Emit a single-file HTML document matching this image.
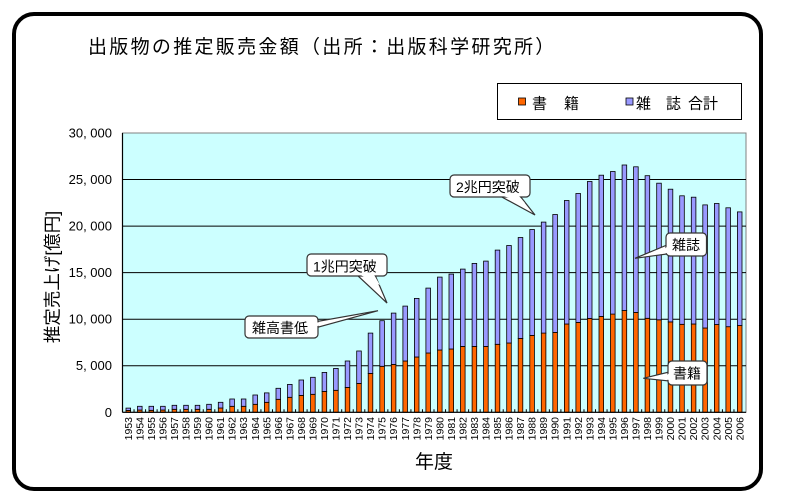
<!DOCTYPE html>
<html><head><meta charset="utf-8"><style>
html,body{margin:0;padding:0;background:#fff;}
svg{display:block;}
text{font-family:"Liberation Sans","Noto Sans CJK JP",sans-serif;fill:#000;}
</style></head><body>
<svg width="791" height="500" viewBox="0 0 791 500" xmlns="http://www.w3.org/2000/svg">
<rect x="0" y="0" width="791" height="500" fill="#fff"/>
<rect x="14" y="14" width="747" height="475" rx="20" ry="20" fill="#fff" stroke="#000" stroke-width="4"/>
<text x="88" y="53" font-size="19" letter-spacing="2.3">出版物の推定販売金額（出所：出版科学研究所）</text>
<rect x="497.5" y="83.5" width="244" height="36" fill="#fff" stroke="#000" stroke-width="1"/>
<rect x="518.5" y="98" width="7" height="7" fill="#FF6600" stroke="#000" stroke-width="0.8"/>
<text x="532" y="108.5" font-size="15">書</text>
<text x="564" y="108.5" font-size="15">籍</text>
<rect x="626" y="98" width="7" height="7" fill="#9999FF" stroke="#000" stroke-width="0.8"/>
<text x="636" y="108.5" font-size="15">雑</text>
<text x="666" y="108.5" font-size="15">誌</text>
<text x="688" y="108.5" font-size="15">合計</text>
<rect x="122.5" y="133" width="623.5" height="279.3" fill="#CCFFFF" stroke="#808080" stroke-width="1"/>
<g stroke="#000" stroke-width="1">
<line x1="122.5" y1="179.55" x2="746" y2="179.55"/>
<line x1="122.5" y1="226.1" x2="746" y2="226.1"/>
<line x1="122.5" y1="272.65" x2="746" y2="272.65"/>
<line x1="122.5" y1="319.2" x2="746" y2="319.2"/>
<line x1="122.5" y1="365.75" x2="746" y2="365.75"/>
</g>
<g stroke="#000" stroke-width="0.8">
<rect x="126.0" y="410.4" width="4.6" height="1.9" fill="#FF6600"/><rect x="126.0" y="408.1" width="4.6" height="2.3" fill="#9999FF"/>
<rect x="137.5" y="410.0" width="4.6" height="2.3" fill="#FF6600"/><rect x="137.5" y="406.3" width="4.6" height="3.7" fill="#9999FF"/>
<rect x="149.0" y="410.3" width="4.6" height="2.0" fill="#FF6600"/><rect x="149.0" y="406.3" width="4.6" height="4.0" fill="#9999FF"/>
<rect x="160.6" y="410.0" width="4.6" height="2.3" fill="#FF6600"/><rect x="160.6" y="406.3" width="4.6" height="3.7" fill="#9999FF"/>
<rect x="172.1" y="409.3" width="4.6" height="3.0" fill="#FF6600"/><rect x="172.1" y="405.3" width="4.6" height="4.0" fill="#9999FF"/>
<rect x="183.7" y="409.3" width="4.6" height="3.0" fill="#FF6600"/><rect x="183.7" y="405.3" width="4.6" height="4.0" fill="#9999FF"/>
<rect x="195.2" y="409.3" width="4.6" height="3.0" fill="#FF6600"/><rect x="195.2" y="405.3" width="4.6" height="4.0" fill="#9999FF"/>
<rect x="206.7" y="409.3" width="4.6" height="3.0" fill="#FF6600"/><rect x="206.7" y="404.3" width="4.6" height="5.0" fill="#9999FF"/>
<rect x="218.3" y="408.0" width="4.6" height="4.3" fill="#FF6600"/><rect x="218.3" y="402.3" width="4.6" height="5.7" fill="#9999FF"/>
<rect x="229.8" y="406.3" width="4.6" height="6.0" fill="#FF6600"/><rect x="229.8" y="399.0" width="4.6" height="7.3" fill="#9999FF"/>
<rect x="241.3" y="406.3" width="4.6" height="6.0" fill="#FF6600"/><rect x="241.3" y="399.0" width="4.6" height="7.3" fill="#9999FF"/>
<rect x="252.9" y="404.3" width="4.6" height="8.0" fill="#FF6600"/><rect x="252.9" y="395.0" width="4.6" height="9.3" fill="#9999FF"/>
<rect x="264.4" y="402.3" width="4.6" height="10.0" fill="#FF6600"/><rect x="264.4" y="392.9" width="4.6" height="9.4" fill="#9999FF"/>
<rect x="276.0" y="399.3" width="4.6" height="13.0" fill="#FF6600"/><rect x="276.0" y="388.3" width="4.6" height="11.0" fill="#9999FF"/>
<rect x="287.5" y="397.3" width="4.6" height="15.0" fill="#FF6600"/><rect x="287.5" y="384.4" width="4.6" height="12.9" fill="#9999FF"/>
<rect x="299.0" y="395.4" width="4.6" height="16.9" fill="#FF6600"/><rect x="299.0" y="380.0" width="4.6" height="15.4" fill="#9999FF"/>
<rect x="310.6" y="394.3" width="4.6" height="18.0" fill="#FF6600"/><rect x="310.6" y="377.3" width="4.6" height="17.0" fill="#9999FF"/>
<rect x="322.1" y="391.4" width="4.6" height="20.9" fill="#FF6600"/><rect x="322.1" y="372.4" width="4.6" height="19.0" fill="#9999FF"/>
<rect x="333.6" y="390.3" width="4.6" height="22.0" fill="#FF6600"/><rect x="333.6" y="368.4" width="4.6" height="21.9" fill="#9999FF"/>
<rect x="345.2" y="387.4" width="4.6" height="24.9" fill="#FF6600"/><rect x="345.2" y="361.0" width="4.6" height="26.4" fill="#9999FF"/>
<rect x="356.7" y="383.4" width="4.6" height="28.9" fill="#FF6600"/><rect x="356.7" y="351.0" width="4.6" height="32.4" fill="#9999FF"/>
<rect x="368.2" y="373.4" width="4.6" height="38.9" fill="#FF6600"/><rect x="368.2" y="333.1" width="4.6" height="40.3" fill="#9999FF"/>
<rect x="379.8" y="366.3" width="4.6" height="46.0" fill="#FF6600"/><rect x="379.8" y="320.7" width="4.6" height="45.6" fill="#9999FF"/>
<rect x="391.3" y="364.4" width="4.6" height="47.9" fill="#FF6600"/><rect x="391.3" y="313.1" width="4.6" height="51.3" fill="#9999FF"/>
<rect x="402.9" y="361.0" width="4.6" height="51.3" fill="#FF6600"/><rect x="402.9" y="306.1" width="4.6" height="54.9" fill="#9999FF"/>
<rect x="414.4" y="357.0" width="4.6" height="55.3" fill="#FF6600"/><rect x="414.4" y="298.4" width="4.6" height="58.6" fill="#9999FF"/>
<rect x="425.9" y="353.0" width="4.6" height="59.3" fill="#FF6600"/><rect x="425.9" y="288.1" width="4.6" height="64.9" fill="#9999FF"/>
<rect x="437.5" y="350.0" width="4.6" height="62.3" fill="#FF6600"/><rect x="437.5" y="277.1" width="4.6" height="72.9" fill="#9999FF"/>
<rect x="449.0" y="349.0" width="4.6" height="63.3" fill="#FF6600"/><rect x="449.0" y="274.1" width="4.6" height="74.9" fill="#9999FF"/>
<rect x="460.5" y="346.4" width="4.6" height="65.9" fill="#FF6600"/><rect x="460.5" y="269.1" width="4.6" height="77.3" fill="#9999FF"/>
<rect x="472.1" y="346.4" width="4.6" height="65.9" fill="#FF6600"/><rect x="472.1" y="263.4" width="4.6" height="83.0" fill="#9999FF"/>
<rect x="483.6" y="346.4" width="4.6" height="65.9" fill="#FF6600"/><rect x="483.6" y="261.1" width="4.6" height="85.3" fill="#9999FF"/>
<rect x="495.2" y="344.3" width="4.6" height="68.0" fill="#FF6600"/><rect x="495.2" y="250.1" width="4.6" height="94.2" fill="#9999FF"/>
<rect x="506.7" y="343.0" width="4.6" height="69.3" fill="#FF6600"/><rect x="506.7" y="245.5" width="4.6" height="97.5" fill="#9999FF"/>
<rect x="518.2" y="338.4" width="4.6" height="73.9" fill="#FF6600"/><rect x="518.2" y="237.5" width="4.6" height="100.9" fill="#9999FF"/>
<rect x="529.8" y="335.4" width="4.6" height="76.9" fill="#FF6600"/><rect x="529.8" y="229.5" width="4.6" height="105.9" fill="#9999FF"/>
<rect x="541.3" y="333.1" width="4.6" height="79.2" fill="#FF6600"/><rect x="541.3" y="222.1" width="4.6" height="111.0" fill="#9999FF"/>
<rect x="552.8" y="332.4" width="4.6" height="79.9" fill="#FF6600"/><rect x="552.8" y="214.5" width="4.6" height="117.9" fill="#9999FF"/>
<rect x="564.4" y="324.0" width="4.6" height="88.3" fill="#FF6600"/><rect x="564.4" y="200.5" width="4.6" height="123.5" fill="#9999FF"/>
<rect x="575.9" y="322.4" width="4.6" height="89.9" fill="#FF6600"/><rect x="575.9" y="193.5" width="4.6" height="128.9" fill="#9999FF"/>
<rect x="587.4" y="318.4" width="4.6" height="93.9" fill="#FF6600"/><rect x="587.4" y="181.5" width="4.6" height="136.9" fill="#9999FF"/>
<rect x="599.0" y="316.4" width="4.6" height="95.9" fill="#FF6600"/><rect x="599.0" y="175.2" width="4.6" height="141.2" fill="#9999FF"/>
<rect x="610.5" y="314.1" width="4.6" height="98.2" fill="#FF6600"/><rect x="610.5" y="171.5" width="4.6" height="142.6" fill="#9999FF"/>
<rect x="622.1" y="310.5" width="4.6" height="101.8" fill="#FF6600"/><rect x="622.1" y="165.0" width="4.6" height="145.5" fill="#9999FF"/>
<rect x="633.6" y="312.4" width="4.6" height="99.9" fill="#FF6600"/><rect x="633.6" y="166.8" width="4.6" height="145.6" fill="#9999FF"/>
<rect x="645.1" y="318.3" width="4.6" height="94.0" fill="#FF6600"/><rect x="645.1" y="175.7" width="4.6" height="142.6" fill="#9999FF"/>
<rect x="656.7" y="319.8" width="4.6" height="92.5" fill="#FF6600"/><rect x="656.7" y="183.2" width="4.6" height="136.6" fill="#9999FF"/>
<rect x="668.2" y="321.9" width="4.6" height="90.4" fill="#FF6600"/><rect x="668.2" y="189.2" width="4.6" height="132.7" fill="#9999FF"/>
<rect x="679.7" y="324.3" width="4.6" height="88.0" fill="#FF6600"/><rect x="679.7" y="195.8" width="4.6" height="128.5" fill="#9999FF"/>
<rect x="691.3" y="324.0" width="4.6" height="88.3" fill="#FF6600"/><rect x="691.3" y="197.2" width="4.6" height="126.8" fill="#9999FF"/>
<rect x="702.8" y="328.0" width="4.6" height="84.3" fill="#FF6600"/><rect x="702.8" y="204.9" width="4.6" height="123.1" fill="#9999FF"/>
<rect x="714.4" y="324.5" width="4.6" height="87.8" fill="#FF6600"/><rect x="714.4" y="203.5" width="4.6" height="121.0" fill="#9999FF"/>
<rect x="725.9" y="326.7" width="4.6" height="85.6" fill="#FF6600"/><rect x="725.9" y="207.8" width="4.6" height="118.9" fill="#9999FF"/>
<rect x="737.4" y="325.5" width="4.6" height="86.8" fill="#FF6600"/><rect x="737.4" y="211.9" width="4.6" height="113.6" fill="#9999FF"/>
</g>
<line x1="122.5" y1="133" x2="122.5" y2="412.3" stroke="#000" stroke-width="1.2"/>
<line x1="122.5" y1="412.3" x2="746" y2="412.3" stroke="#000" stroke-width="1.2"/>
<g stroke="#000" stroke-width="1">
<path d="M134.04 412.3v-3M145.57 412.3v-3M157.11 412.3v-3M168.65 412.3v-3M180.19 412.3v-3M191.72 412.3v-3M203.26 412.3v-3M214.8 412.3v-3M226.33 412.3v-3M237.87 412.3v-3M249.41 412.3v-3M260.94 412.3v-3M272.48 412.3v-3M284.02 412.3v-3M295.56 412.3v-3M307.09 412.3v-3M318.63 412.3v-3M330.17 412.3v-3M341.7 412.3v-3M353.24 412.3v-3M364.78 412.3v-3M376.31 412.3v-3M387.85 412.3v-3M399.39 412.3v-3M410.93 412.3v-3M422.46 412.3v-3M434 412.3v-3M445.54 412.3v-3M457.07 412.3v-3M468.61 412.3v-3M480.15 412.3v-3M491.68 412.3v-3M503.22 412.3v-3M514.76 412.3v-3M526.3 412.3v-3M537.83 412.3v-3M549.37 412.3v-3M560.91 412.3v-3M572.44 412.3v-3M583.98 412.3v-3M595.52 412.3v-3M607.05 412.3v-3M618.59 412.3v-3M630.13 412.3v-3M641.67 412.3v-3M653.2 412.3v-3M664.74 412.3v-3M676.28 412.3v-3M687.81 412.3v-3M699.35 412.3v-3M710.89 412.3v-3M722.42 412.3v-3M733.96 412.3v-3"/>
</g>
<g font-size="13" text-anchor="end">
<text x="112" y="137.5">30, 000</text>
<text x="112" y="184">25, 000</text>
<text x="112" y="230.5">20, 000</text>
<text x="112" y="277">15, 000</text>
<text x="112" y="323.7">10, 000</text>
<text x="112" y="370.2">5, 000</text>
<text x="112" y="416.8">0</text>
</g>
<text transform="translate(58.5,277) rotate(-90)" text-anchor="middle" font-size="17.5">推定売上げ[億円]</text>
<g font-size="10.5" text-anchor="end" fill="#222">
<text transform="translate(131.9,417) rotate(-90)">1953</text>
<text transform="translate(143.4,417) rotate(-90)">1954</text>
<text transform="translate(154.9,417) rotate(-90)">1955</text>
<text transform="translate(166.5,417) rotate(-90)">1956</text>
<text transform="translate(178.0,417) rotate(-90)">1957</text>
<text transform="translate(189.6,417) rotate(-90)">1958</text>
<text transform="translate(201.1,417) rotate(-90)">1959</text>
<text transform="translate(212.6,417) rotate(-90)">1960</text>
<text transform="translate(224.2,417) rotate(-90)">1961</text>
<text transform="translate(235.7,417) rotate(-90)">1962</text>
<text transform="translate(247.2,417) rotate(-90)">1963</text>
<text transform="translate(258.8,417) rotate(-90)">1964</text>
<text transform="translate(270.3,417) rotate(-90)">1965</text>
<text transform="translate(281.9,417) rotate(-90)">1966</text>
<text transform="translate(293.4,417) rotate(-90)">1967</text>
<text transform="translate(304.9,417) rotate(-90)">1968</text>
<text transform="translate(316.5,417) rotate(-90)">1969</text>
<text transform="translate(328.0,417) rotate(-90)">1970</text>
<text transform="translate(339.5,417) rotate(-90)">1971</text>
<text transform="translate(351.1,417) rotate(-90)">1972</text>
<text transform="translate(362.6,417) rotate(-90)">1973</text>
<text transform="translate(374.1,417) rotate(-90)">1974</text>
<text transform="translate(385.7,417) rotate(-90)">1975</text>
<text transform="translate(397.2,417) rotate(-90)">1976</text>
<text transform="translate(408.8,417) rotate(-90)">1977</text>
<text transform="translate(420.3,417) rotate(-90)">1978</text>
<text transform="translate(431.8,417) rotate(-90)">1979</text>
<text transform="translate(443.4,417) rotate(-90)">1980</text>
<text transform="translate(454.9,417) rotate(-90)">1981</text>
<text transform="translate(466.4,417) rotate(-90)">1982</text>
<text transform="translate(478.0,417) rotate(-90)">1983</text>
<text transform="translate(489.5,417) rotate(-90)">1984</text>
<text transform="translate(501.1,417) rotate(-90)">1985</text>
<text transform="translate(512.6,417) rotate(-90)">1986</text>
<text transform="translate(524.1,417) rotate(-90)">1987</text>
<text transform="translate(535.7,417) rotate(-90)">1988</text>
<text transform="translate(547.2,417) rotate(-90)">1989</text>
<text transform="translate(558.7,417) rotate(-90)">1990</text>
<text transform="translate(570.3,417) rotate(-90)">1991</text>
<text transform="translate(581.8,417) rotate(-90)">1992</text>
<text transform="translate(593.3,417) rotate(-90)">1993</text>
<text transform="translate(604.9,417) rotate(-90)">1994</text>
<text transform="translate(616.4,417) rotate(-90)">1995</text>
<text transform="translate(628.0,417) rotate(-90)">1996</text>
<text transform="translate(639.5,417) rotate(-90)">1997</text>
<text transform="translate(651.0,417) rotate(-90)">1998</text>
<text transform="translate(662.6,417) rotate(-90)">1999</text>
<text transform="translate(674.1,417) rotate(-90)">2000</text>
<text transform="translate(685.6,417) rotate(-90)">2001</text>
<text transform="translate(697.2,417) rotate(-90)">2002</text>
<text transform="translate(708.7,417) rotate(-90)">2003</text>
<text transform="translate(720.3,417) rotate(-90)">2004</text>
<text transform="translate(731.8,417) rotate(-90)">2005</text>
<text transform="translate(743.3,417) rotate(-90)">2006</text>
</g>
<text x="434" y="468" text-anchor="middle" font-size="19">年度</text>
<g stroke="#333" stroke-width="1.2" fill="#fff">
<!-- 1兆円突破 -->
<polygon points="357,275 375,275 387,303"/>
<rect x="307" y="254" width="80" height="22" rx="4"/>
<polygon points="358.5,274 373.5,274 380,285" stroke="none"/>
<!-- 雑高書低 -->
<polygon points="317,321.5 317,327.5 378,310.7"/>
<rect x="245" y="316" width="73" height="22" rx="4"/>
<polygon points="316,322.5 316,326.5 330,322" stroke="none"/>
<!-- 2兆円突破 -->
<polygon points="500,196 520,196 535,215"/>
<rect x="450" y="175" width="80" height="22" rx="4"/>
<polygon points="501.5,195.5 518.5,195.5 525,203" stroke="none"/>
<!-- 雑誌 -->
<polygon points="667,245 667,254 635,258.3"/>
<rect x="666" y="233" width="40.5" height="23" rx="4"/>
<polygon points="667.5,246 667.5,253 660,254" stroke="none"/>
<!-- 書籍 -->
<polygon points="669,372 669,381 643.3,378.3"/>
<rect x="668" y="361" width="39" height="24" rx="4"/>
<polygon points="669.5,373 669.5,380 662,379" stroke="none"/>
</g>
<g font-size="14">
<text x="313" y="271.5">1兆円突破</text>
<text x="252" y="333">雑高書低</text>
<text x="456" y="192">2兆円突破</text>
<text x="672" y="250">雑誌</text>
<text x="673" y="378.5">書籍</text>
</g>
</svg>
</body></html>
